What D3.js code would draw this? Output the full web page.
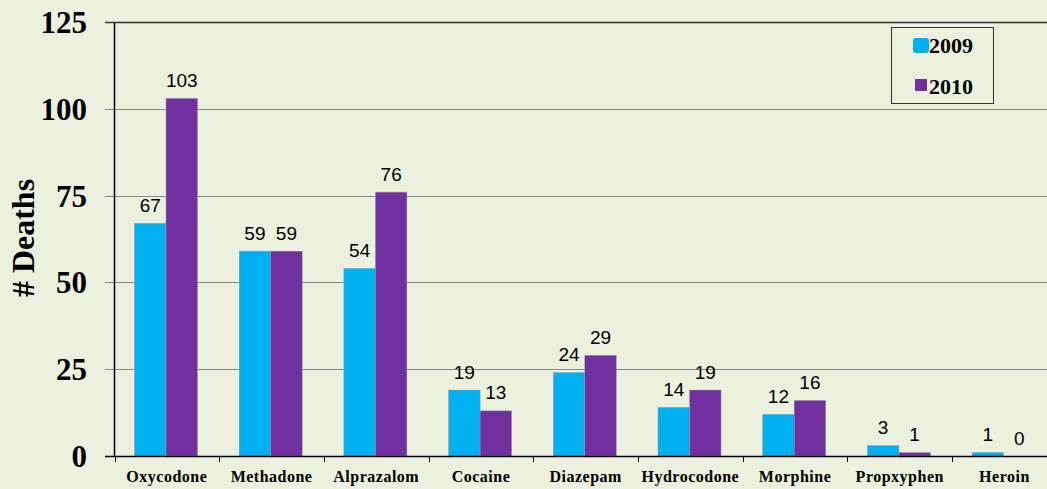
<!DOCTYPE html>
<html>
<head>
<meta charset="utf-8">
<script src="https://cdn.jsdelivr.net/npm/d3@7"></script>
<style>
  body { margin: 0; background: #EBF1DE; }
  svg { display: block; }
</style>
</head>
<body>
<svg width="1047" height="489"></svg>
<script>
// data
var drugs = ["Oxycodone", "Methadone", "Alprazalom", "Cocaine", "Diazepam", "Hydrocodone", "Morphine", "Propxyphen", "Heroin"];
var years = ["2009", "2010"];
var deaths2009 = [67, 59, 54, 19, 24, 14, 12, 3, 1];
var deaths2010 = [103, 59, 76, 13, 29, 19, 16, 1, 0];
var yTicks = [0, 25, 50, 75, 100, 125];
var colors = ["#00B0F0", "#7030A0"];

var svg = d3.select("svg");
svg.append("rect").attr("width", 1047).attr("height", 489).attr("fill", "#EBF1DE");

var plotLeft = 114.5, plotTop = 22, plotBottom = 456;
var bandW = 104.7;

var x = d3.scaleBand().domain(drugs).range([plotLeft, plotLeft + bandW * drugs.length]).padding(0);
var xs = d3.scaleBand().domain(years).range([20, 83]).padding(0);
var y = d3.scaleLinear().domain([0, 125]).range([plotBottom, plotTop]);

var rows = drugs.map(function(d, i) {
  return { drug: d, vals: [deaths2009[i], deaths2010[i]] };
});

// gridlines
svg.append("g").selectAll("line")
  .data(yTicks.filter(function(t) { return t > 0; }))
  .enter().append("line")
  .attr("x1", 105).attr("x2", 1047)
  .attr("y1", function(d) { return Math.round(y(d)) + 0.5; })
  .attr("y2", function(d) { return Math.round(y(d)) + 0.5; })
  .attr("stroke", function(d) { return d == 125 ? "#333" : "#888"; })
  .attr("stroke-width", function(d) { return d == 125 ? 1.5 : 1; });

// y tick labels
svg.append("g").selectAll("text")
  .data(yTicks)
  .enter().append("text")
  .attr("x", 87)
  .attr("y", function(d) { return y(d) + 11; })
  .attr("text-anchor", "end")
  .attr("font-family", "Liberation Serif, Times New Roman, serif")
  .attr("font-weight", "bold")
  .attr("font-size", "31px")
  .text(function(d) { return d; });

svg.append("text")
  .attr("transform", "translate(34,238) rotate(-90)")
  .attr("text-anchor", "middle")
  .attr("font-family", "Liberation Serif, Times New Roman, serif")
  .attr("font-weight", "bold")
  .attr("font-size", "32px")
  .text("# Deaths");

// bars
var groups = svg.append("g").selectAll("g")
  .data(rows)
  .enter().append("g")
  .attr("transform", function(d) { return "translate(" + x(d.drug) + ",0)"; });

groups.selectAll("rect")
  .data(function(d) { return d.vals.map(function(v, i) { return { year: years[i], v: v, i: i }; }); })
  .enter().append("rect")
  .attr("x", function(d) { return xs(d.year); })
  .attr("width", xs.bandwidth())
  .attr("y", function(d) { return y(d.v); })
  .attr("height", function(d) { return plotBottom - y(d.v); })
  .attr("fill", function(d) { return colors[d.i]; })
  .attr("stroke", "#9a9a9a")
  .attr("stroke-width", 0.5);

groups.selectAll("text")
  .data(function(d) { return d.vals.map(function(v, i) { return { year: years[i], v: v }; }); })
  .enter().append("text")
  .attr("x", function(d) { return xs(d.year) + xs.bandwidth() / 2; })
  .attr("y", function(d) { return y(d.v) - 11.5; })
  .attr("text-anchor", "middle")
  .attr("font-family", "Liberation Sans, Arial, sans-serif")
  .attr("font-size", "19px")
  .attr("fill", "#000")
  .text(function(d) { return d.v; });

// axes lines
svg.append("line")
  .attr("x1", plotLeft).attr("x2", plotLeft).attr("y1", plotTop).attr("y2", plotBottom)
  .attr("stroke", "#000").attr("stroke-width", 1.5);
svg.append("line")
  .attr("x1", 105).attr("x2", 1047).attr("y1", plotBottom + 0.5).attr("y2", plotBottom + 0.5)
  .attr("stroke", "#000").attr("stroke-width", 1.5);

// category ticks
svg.append("g").selectAll("line")
  .data(drugs)
  .enter().append("line")
  .attr("x1", function(d) { return Math.round(x(d)) + 0.5; })
  .attr("x2", function(d) { return Math.round(x(d)) + 0.5; })
  .attr("y1", plotBottom).attr("y2", plotBottom + 6)
  .attr("stroke", "#000");

svg.append("g").selectAll("text")
  .data(drugs)
  .enter().append("text")
  .attr("x", function(d) { return x(d) + bandW / 2; })
  .attr("y", 482)
  .attr("text-anchor", "middle")
  .attr("font-family", "Liberation Serif, Times New Roman, serif")
  .attr("font-weight", "bold")
  .attr("font-size", "16px")
  .attr("letter-spacing", "0.5px")
  .text(function(d) { return d; });

// legend
var lg = svg.append("g");
lg.append("rect")
  .attr("x", 891.5).attr("y", 27.5).attr("width", 102).attr("height", 76)
  .attr("fill", "none").attr("stroke", "#333");
lg.append("rect")
  .attr("x", 913).attr("y", 38).attr("width", 16).attr("height", 15).attr("rx", 3)
  .attr("fill", colors[0]);
lg.append("rect")
  .attr("x", 915).attr("y", 79).attr("width", 12).attr("height", 12)
  .attr("fill", colors[1]);
lg.selectAll("text.leg")
  .data(years)
  .enter().append("text")
  .attr("class", "leg")
  .attr("x", 929)
  .attr("y", function(d, i) { return i == 0 ? 53 : 94; })
  .attr("font-family", "Liberation Serif, Times New Roman, serif")
  .attr("font-weight", "bold")
  .attr("font-size", "22px")
  .text(function(d) { return d; });
</script>
</body>
</html>
